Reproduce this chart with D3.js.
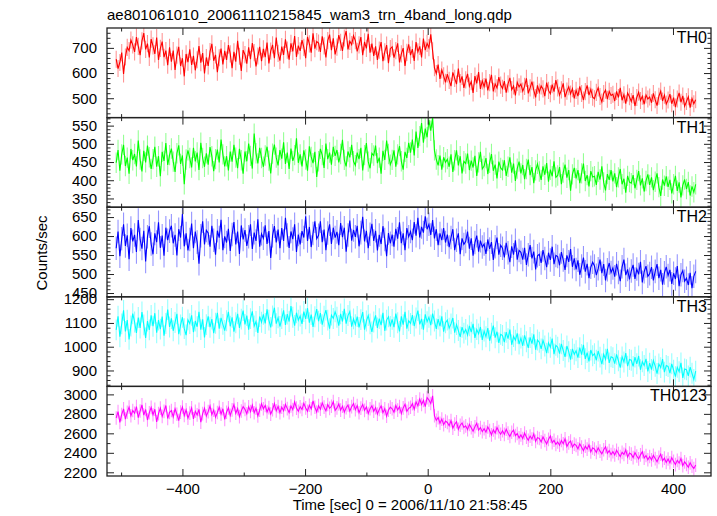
<!DOCTYPE html>
<html><head><meta charset="utf-8">
<script src="https://cdn.jsdelivr.net/npm/d3@7"></script>
<style>body{margin:0;background:#fff}svg{display:block}text{font-family:"Liberation Sans",Arial,Helvetica,sans-serif;fill:#000}</style>
</head><body><svg id="c" width="717" height="516"></svg>
<script>
const titleText = "ae801061010_20061110215845_wam3_trn_4band_long.qdp";
const xLabel = "Time [sec] 0 = 2006/11/10 21:58:45";
const yLabel = "Counts/sec";
const seriesNames = ["TH0","TH1","TH2","TH3","TH0123"];
const seriesColors = ["#ff0000","#00ff00","#0000ff","#00ffff","#ff00ff"];
const binStart = -508, binWidth = 3;
const errHalf = [34, 28, 31, 44, 70];
const xDomain = [-523, 462];
const xMinorTicks = [-500,-300,-100,100,300];
const xTickLabels = [-400,-200,0,200,400];
const yDomains = [[423,779],[326,572],[440,676],[833,1210],[2162,3082]];
const yMajor = [[500,600,700],[350,400,450,500,550],[450,500,550,600,650],[900,1000,1100,1200],[2200,2400,2600,2800,3000]];
const yMinorStep = [20,10,10,20,100];

const th0 = [655,618,642,681,596,664,702,689,731,712,
684,743,706,671,728,759,694,717,662,735,
708,676,741,652,698,725,663,689,631,702,
645,689,612,671,704,628,659,587,676,643,
694,632,668,611,653,707,641,679,598,662,
628,685,716,649,672,603,661,697,634,688,
652,711,676,619,684,645,728,667,608,691,
673,637,702,655,719,681,626,668,704,647,
696,663,721,638,687,712,659,741,678,649,
705,672,734,691,653,718,686,747,664,709,
688,731,702,659,744,716,681,758,697,725,
719,684,746,708,662,729,753,691,738,674,
703,751,722,688,739,767,694,726,713,748,
729,686,712,743,671,724,698,756,681,717,
668,706,652,691,723,647,684,711,639,697,
704,661,689,718,642,676,699,628,682,714,
671,695,648,723,684,706,662,737,691,718,
701,754,688,621,598,634,577,612,589,563,
596,571,548,603,579,556,618,562,587,541,
573,597,548,566,521,588,559,604,537,569,
546,578,531,562,593,527,557,541,584,552,
539,568,522,557,581,534,549,511,563,545,
556,528,547,579,519,541,566,532,503,551,
524,549,537,508,562,531,518,554,526,572,
541,512,533,559,504,528,546,517,538,499,
531,508,547,519,493,526,551,512,535,504,
498,523,541,507,485,519,532,496,527,511,
516,489,527,503,541,492,514,478,521,506,
487,512,469,503,524,491,508,476,513,497,
505,482,519,494,471,508,528,489,512,477,
493,516,478,502,465,497,521,484,509,468,
487,506,463,499,478,494];
const th1 = [448,483,426,471,497,439,462,418,486,455,
472,438,509,457,424,481,449,495,463,431,
458,492,437,466,411,478,453,502,442,469,
487,451,423,474,496,445,468,389,457,482,
461,435,489,452,476,428,503,461,437,474,
443,491,466,425,458,484,449,512,471,438,
466,427,479,451,497,462,433,486,455,418,
479,452,501,467,432,528,474,446,489,461,
437,468,492,454,419,473,498,462,441,483,
459,504,445,476,431,487,453,469,515,448,
471,438,482,457,426,493,464,447,478,409,
452,486,469,434,501,458,476,443,492,467,
483,449,472,511,456,438,479,463,497,452,
441,476,458,489,427,469,502,451,433,474,
468,495,447,462,418,481,456,509,472,443,
456,482,437,471,494,452,429,478,461,503,
476,512,468,534,489,521,557,503,542,518,
565,536,572,482,457,441,468,429,463,449,
458,437,471,423,455,482,441,466,419,452,
446,473,428,454,435,467,412,449,478,431,
439,461,417,448,472,426,443,405,451,434,
428,455,412,437,463,421,446,398,432,451,
419,442,403,431,457,414,436,392,427,445,
424,401,438,415,447,396,429,411,452,408,
413,436,389,421,443,407,428,371,416,434,
405,428,392,419,446,398,414,383,425,409,
411,387,423,402,438,394,372,417,401,428,
397,419,381,408,431,389,404,366,412,395,
392,414,378,401,425,386,405,369,398,416,
387,408,373,396,419,381,357,402,385,411,
382,401,364,389,412,371,394,353,386,402,
376,395,358,383,367,389];
const th2 = [568,612,547,593,631,574,602,539,621,586,
603,558,642,591,567,614,533,598,626,579,
552,607,584,636,569,601,548,622,589,613,
627,581,603,549,618,596,658,573,607,562,
591,633,568,612,584,527,601,639,578,615,
608,572,627,589,551,614,596,643,563,599,
583,619,561,604,637,578,612,553,628,591,
616,574,598,631,566,609,587,644,572,606,
594,628,579,613,542,601,626,583,617,568,
621,587,648,603,569,612,592,631,558,604,
578,613,596,652,587,624,571,607,639,593,
602,639,584,617,563,608,631,579,622,596,
611,576,634,597,622,559,603,641,588,616,
598,627,573,609,651,586,614,568,605,632,
587,614,562,603,579,626,591,547,608,581,
604,572,619,593,636,581,607,563,621,598,
612,589,637,601,648,596,624,609,652,618,
631,603,642,594,618,576,607,589,621,583,
604,571,596,618,563,589,607,552,594,578,
586,612,567,594,548,583,601,559,588,571,
579,553,591,566,584,537,572,596,551,576,
568,544,582,556,531,573,551,589,538,562,
557,538,569,524,551,576,541,559,512,548,
552,529,563,541,518,556,537,572,526,549,
546,523,558,537,511,549,532,566,519,541,
512,536,498,521,543,506,527,489,518,531,
521,497,514,538,502,526,483,511,529,504,
516,493,527,504,481,519,538,497,512,486,
508,524,487,513,499,532,478,506,521,494,
501,518,483,507,526,489,511,472,503,519,
496,511,474,502,487,521,468,498,509,481,
489,471,503,463,494,507];
const th3 = [1071,1128,1042,1096,1153,1064,1112,1031,1087,1139,
1104,1058,1123,1079,1146,1092,1037,1108,1071,1132,
1086,1141,1059,1112,1074,1127,1046,1098,1156,1083,
1119,1067,1102,1138,1053,1091,1124,1076,1049,1113,
1097,1132,1061,1108,1084,1147,1072,1115,1039,1093,
1128,1082,1116,1057,1099,1143,1076,1121,1094,1068,
1109,1147,1086,1124,1063,1101,1138,1079,1116,1152,
1094,1131,1072,1118,1149,1087,1106,1058,1127,1103,
1136,1098,1157,1112,1081,1129,1164,1097,1122,1085,
1118,1153,1092,1137,1106,1171,1124,1089,1143,1111,
1129,1096,1148,1117,1162,1101,1135,1083,1126,1158,
1107,1141,1093,1128,1154,1112,1076,1133,1119,1147,
1124,1089,1138,1106,1159,1097,1131,1148,1084,1117,
1093,1127,1081,1114,1146,1072,1108,1131,1096,1062,
1104,1132,1079,1118,1091,1143,1067,1112,1126,1085,
1115,1082,1139,1101,1064,1128,1093,1147,1076,1109,
1098,1133,1087,1121,1152,1094,1117,1072,1136,1105,
1124,1091,1139,1108,1075,1116,1087,1128,1063,1101,
1112,1078,1096,1121,1059,1093,1068,1041,1082,1057,
1073,1049,1088,1061,1096,1037,1072,1054,1083,1029,
1066,1042,1078,1025,1057,1089,1038,1063,1016,1052,
1047,1019,1061,1034,1072,1008,1043,1027,1056,1011,
1036,1004,1048,1021,995,1039,1013,1052,987,1028,
1019,991,1027,1003,973,1016,998,1034,969,1006,
998,971,1012,984,957,1003,979,946,991,968,
983,954,996,967,1008,949,975,938,986,962,
971,943,982,956,927,968,947,991,932,958,
954,929,968,941,912,957,936,973,918,946,
943,917,956,928,961,903,937,921,949,896,
931,904,942,918,887,927,912,948,893,921,
917,889,928,901,874,913,895,932,869,906,
903,877,914,888,862,897];
const th0123 = [2758,2823,2712,2794,2851,2746,2817,2869,2781,2835,
2806,2874,2762,2829,2893,2788,2845,2737,2812,2866,
2791,2847,2718,2803,2859,2774,2826,2886,2752,2815,
2834,2769,2852,2796,2731,2818,2871,2783,2842,2756,
2808,2861,2749,2827,2789,2846,2714,2803,2857,2778,
2823,2881,2792,2839,2765,2814,2868,2797,2852,2743,
2817,2862,2784,2841,2896,2806,2853,2771,2829,2874,
2846,2801,2873,2824,2889,2812,2858,2779,2837,2903,
2852,2887,2819,2864,2798,2842,2906,2831,2876,2813,
2868,2832,2897,2854,2813,2881,2843,2922,2859,2826,
2873,2845,2908,2861,2827,2889,2852,2934,2868,2819,
2884,2847,2913,2869,2831,2896,2857,2878,2925,2836,
2861,2902,2838,2879,2817,2863,2891,2829,2874,2906,
2843,2885,2812,2859,2897,2836,2871,2804,2852,2883,
2827,2864,2798,2846,2881,2812,2853,2776,2838,2869,
2852,2817,2886,2839,2874,2803,2861,2898,2826,2857,
2868,2904,2847,2923,2881,2952,2896,2938,2874,2967,
2942,2906,2985,2781,2733,2762,2704,2746,2689,2725,
2712,2678,2731,2653,2694,2719,2642,2683,2706,2661,
2676,2638,2692,2657,2621,2668,2703,2634,2659,2617,
2648,2612,2667,2629,2584,2636,2603,2659,2618,2591,
2627,2589,2643,2602,2568,2611,2634,2576,2598,2553,
2584,2547,2603,2561,2529,2572,2541,2594,2518,2556,
2547,2512,2563,2526,2491,2538,2572,2503,2529,2486,
2511,2478,2527,2493,2544,2466,2502,2521,2458,2489,
2476,2441,2493,2458,2421,2467,2438,2482,2409,2451,
2438,2404,2452,2417,2389,2431,2462,2396,2423,2381,
2412,2378,2426,2393,2361,2405,2384,2431,2356,2398,
2386,2351,2402,2367,2338,2379,2412,2346,2372,2329,
2362,2327,2374,2341,2308,2353,2386,2319,2345,2301,
2336,2298,2351,2312,2279,2323,2294,2341,2268,2307,
2281,2252,2297,2263,2238,2274];
const seriesValues = [th0, th1, th2, th3, th0123];

const svg = d3.select("#c");
const L = 107, R = 711, T = 28, PH = 89.6;
const x = d3.scaleLinear().domain(xDomain).range([L, R]);
const tOf = i => binStart + binWidth * i;
const fs = "15px";
const MAJ = 7, MIN = 3.5;

svg.append("text").attr("x", L).attr("y", 20).style("font-size", fs).text(titleText);

seriesValues.forEach((vals, k) => {
  const y0 = T + k * PH, y1 = y0 + PH;
  const y = d3.scaleLinear().domain(yDomains[k]).range([y1, y0]);
  const col = seriesColors[k], e = errHalf[k];
  const g = svg.append("g");
  const cid = "clip" + k;
  svg.append("clipPath").attr("id", cid).append("rect").attr("x", L).attr("y", y0).attr("width", R - L).attr("height", PH);
  const dg = g.append("g").attr("clip-path", `url(#${cid})`);
  dg.selectAll("line.eb").data(vals).join("line").attr("class", "eb")
    .attr("x1", (d, i) => x(tOf(i))).attr("x2", (d, i) => x(tOf(i)))
    .attr("y1", d => y(d - e)).attr("y2", d => y(d + e))
    .attr("stroke", col).attr("stroke-opacity", 0.42).attr("stroke-width", 1.1);
  dg.append("path").datum(vals)
    .attr("d", d3.line().x((d, i) => x(tOf(i))).y(d => y(d)))
    .attr("fill", "none").attr("stroke", col).attr("stroke-width", 1.1);

  const minor = d3.range(Math.ceil(yDomains[k][0] / yMinorStep[k]) * yMinorStep[k], yDomains[k][1], yMinorStep[k])
    .filter(v => !yMajor[k].includes(v));
  const ax = (sel, axis) => { sel.call(axis); sel.select(".domain").remove(); sel.selectAll("line").attr("stroke", "#222"); sel.selectAll("text").style("font-size", fs).attr("fill", "#000").style("font-family", '"Liberation Sans",Arial,sans-serif'); };
  g.append("g").attr("transform", `translate(${L},0)`).call(s => ax(s, d3.axisLeft(y).tickValues(minor).tickSize(-MIN).tickFormat("")));
  g.append("g").attr("transform", `translate(${L},0)`).call(s => ax(s, d3.axisLeft(y).tickValues(yMajor[k]).tickSize(-MAJ).tickPadding(10).tickFormat(d3.format("d"))));
  g.append("g").attr("transform", `translate(${R},0)`).call(s => ax(s, d3.axisRight(y).tickValues(minor).tickSize(-MIN).tickFormat("")));
  g.append("g").attr("transform", `translate(${R},0)`).call(s => ax(s, d3.axisRight(y).tickValues(yMajor[k]).tickSize(-MAJ).tickFormat("")));
  [[y0, d3.axisTop], [y1, d3.axisBottom]].forEach(([yy, A]) => {
    g.append("g").attr("transform", `translate(0,${yy})`).call(s => ax(s, A(x).tickValues(xMinorTicks).tickSize(-MIN).tickFormat("")));
    g.append("g").attr("transform", `translate(0,${yy})`).call(s => ax(s, A(x).tickValues(xTickLabels).tickSize(-MAJ).tickFormat("")));
  });
  if (k === seriesValues.length - 1) {
    g.append("g").attr("transform", `translate(0,${y1})`).call(s => ax(s, d3.axisBottom(x).tickValues(xTickLabels).tickSize(0).tickPadding(7)));
  }
  g.append("rect").attr("x", L).attr("y", y0).attr("width", R - L).attr("height", PH)
    .attr("fill", "none").attr("stroke", "#222").attr("stroke-width", 1.3);
  g.append("text").attr("x", R - 4).attr("y", y0 + 15).attr("text-anchor", "end").style("font-size", "16px").text(seriesNames[k]);
});

svg.append("text").attr("x", 410).attr("y", 510).attr("text-anchor", "middle").style("font-size", fs).text(xLabel);
svg.append("text").attr("transform", "translate(47,253) rotate(-90)").attr("text-anchor", "middle").style("font-size", fs).text(yLabel);
</script></body></html>
